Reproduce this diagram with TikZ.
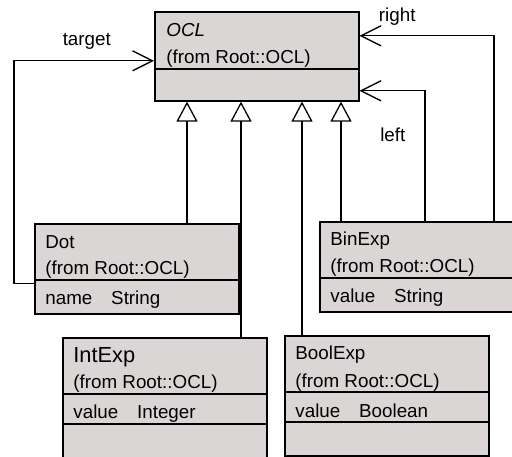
\documentclass[tikz,border=0pt]{standalone}
\usepackage{fontspec}
\setmainfont{Liberation Sans}
\usetikzlibrary{arrows.meta, positioning, calc}
\definecolor{classfill}{RGB}{219,214,214}
\tikzset{
    classbox/.style={rectangle, draw=black, fill=classfill, line width=0.8pt, anchor=north west, minimum width=102pt, inner sep=0pt},
    divider/.style={line width=0.8pt},
    attr/.style={anchor=base west, inner sep=0pt, font=\fontsize{9.4pt}{11pt}\selectfont},
    bigname/.style={anchor=base west, inner sep=0pt, font=\fontsize{10.9pt}{13pt}\selectfont},
    role/.style={inner sep=0pt, font=\fontsize{9.4pt}{11pt}\selectfont},
    inherit/.style={-{Triangle[open, length=10pt, width=10.5pt]}, line width=0.65pt},
    assoc/.style={-{Straight Barb[length=10pt, width=10pt]}, line width=0.65pt},
}

\begin{document}
\begin{tikzpicture}[x=0.5pt, y=-0.5pt]
        \useasboundingbox (0,0) rectangle (512,456);
        \clip (0,0) rectangle (512,456);

        % Classes
        \node[classbox, minimum height=44.5pt] (ocl) at (154,11) {};
        \node[classbox, minimum height=45pt] (dot) at (34,223) {};
        \node[classbox, minimum height=45pt] (binexp) at (319,221) {};
        \node[classbox, minimum height=62pt] (intexp) at (62,337) {};
        \node[classbox, minimum height=60pt] (boolexp) at (284,335) {};

        % Compartments
        \draw[divider] ($(ocl.north west)+(0,58)$) -- ($(ocl.north east)+(0,58)$);
        \draw[divider] ($(dot.north west)+(0,57)$) -- ($(dot.north east)+(0,57)$);
        \draw[divider] ($(binexp.north west)+(0,57)$) -- ($(binexp.north east)+(0,57)$);
        \draw[divider] ($(intexp.north west)+(0,57)$) -- ($(intexp.north east)+(0,57)$);
        \draw[divider] ($(intexp.north west)+(0,87)$) -- ($(intexp.north east)+(0,87)$);
        \draw[divider] ($(boolexp.north west)+(0,57)$) -- ($(boolexp.north east)+(0,57)$);
        \draw[divider] ($(boolexp.north west)+(0,87)$) -- ($(boolexp.north east)+(0,87)$);

        % Texts
        \node[attr] (oclname) at ($(ocl.north west)+(12,25)$) {\textit{OCL}};
        \node[attr] (oclpkg) at ($(ocl.north west)+(12,52)$) {(from Root::OCL)};
        \node[attr] (dotname) at ($(dot.north west)+(11,25)$) {Dot};
        \node[attr] (dotpkg) at ($(dot.north west)+(11,51)$) {(from Root::OCL)};
        \node[attr] (dotattr) at ($(dot.north west)+(11,81)$) {name\quad String};
        \node[attr] (binname) at ($(binexp.north west)+(11,24)$) {BinExp};
        \node[attr] (binpkg) at ($(binexp.north west)+(11,51)$) {(from Root::OCL)};
        \node[attr] (binattr) at ($(binexp.north west)+(11,81)$) {value\quad String};
        \node[bigname] (intname) at ($(intexp.north west)+(11,25)$) {IntExp};
        \node[attr] (intpkg) at ($(intexp.north west)+(11,51)$) {(from Root::OCL)};
        \node[attr] (intattr) at ($(intexp.north west)+(11,81)$) {value\quad Integer};
        \node[attr] (boolname) at ($(boolexp.north west)+(11,24)$) {BoolExp};
        \node[attr] (boolpkg) at ($(boolexp.north west)+(11,52)$) {(from Root::OCL)};
        \node[attr] (boolattr) at ($(boolexp.north west)+(11,82)$) {value\quad Boolean};

        % Generalizations
        \coordinate (g1) at (187,0);
        \coordinate (g2) at (241,0);
        \coordinate (g3) at (302,0);
        \coordinate (g4) at (341,0);
        \draw[inherit] (dot.north -| g1) -- (ocl.south -| g1);
        \draw[inherit] (intexp.north -| g2) -- (ocl.south -| g2);
        \draw[inherit] (boolexp.north -| g3) -- (ocl.south -| g3);
        \draw[inherit] (binexp.north -| g4) -- (ocl.south -| g4);

        % Associations
        \coordinate (a1) at (425,0);
        \coordinate (a2) at (494,0);
        \draw[assoc] ([yshift=-7.5pt]dot.west) -- ++(-20,0) |- node[role, pos=0.76, above=5.5pt] (targetlbl) {target} ([yshift=-2.25pt]ocl.west);
        \draw[assoc] (binexp.north -| a1) |- node[role, pos=0.33, left=9.5pt] (leftlbl) {left} ([yshift=-17.25pt]ocl.east);
        \draw[assoc] (binexp.north -| a2) |- node[role, pos=0.86, above=5pt] (rightlbl) {right} ([yshift=10.25pt]ocl.east);
    \end{tikzpicture}
\end{document}
